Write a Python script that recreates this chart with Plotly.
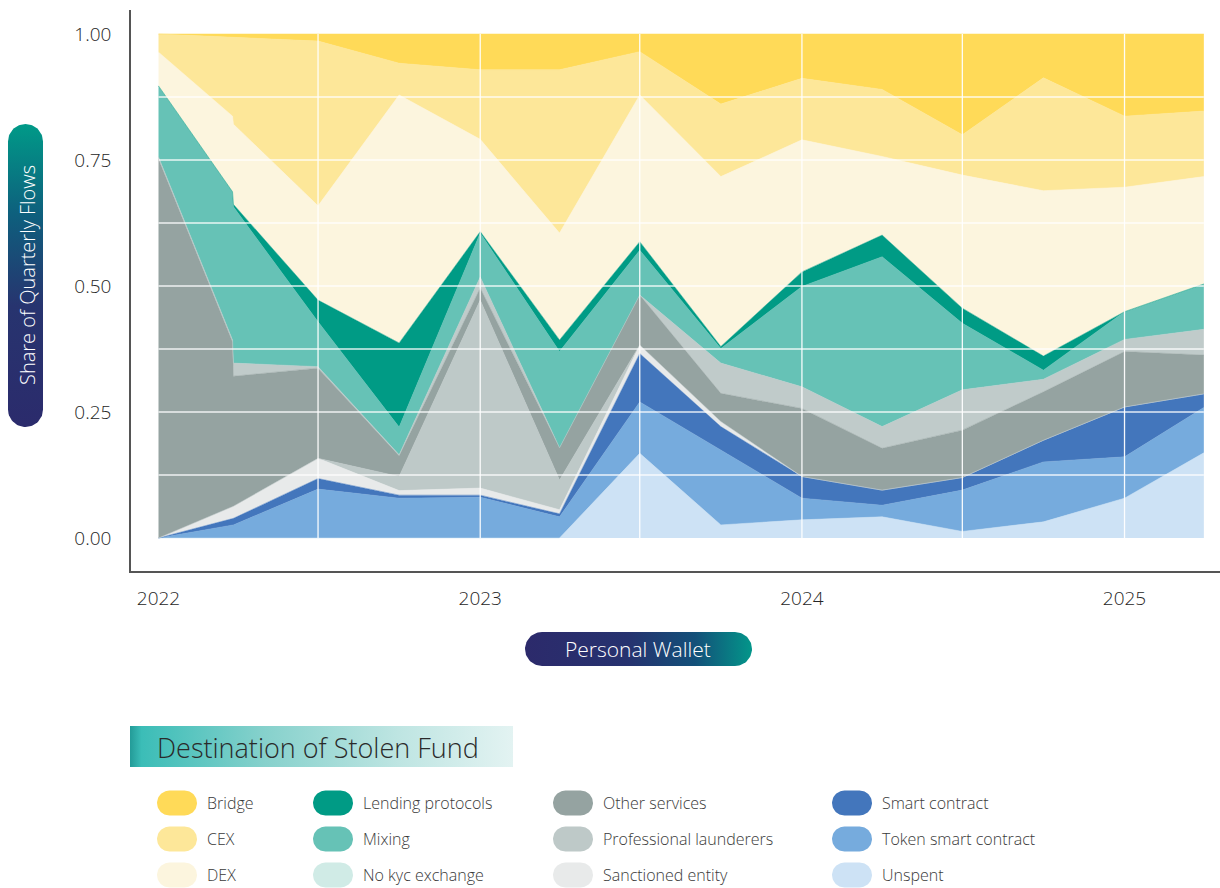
import numpy as np
import plotly.graph_objects as go

# Quarterly observations (the second row is a same-quarter revision)
dates = ["2022-01-01", "2022-03-26", "2022-03-27", "2022-07-01", "2022-10-01",
         "2023-01-01", "2023-04-01", "2023-07-01", "2023-10-01",
         "2024-01-01", "2024-04-01", "2024-07-01", "2024-10-01",
         "2025-01-01", "2025-04-01"]

# Share of quarterly flows per destination
unspent        = [0.000, 0.000, 0.000, 0.000, 0.000, 0.000, 0.000, 0.168, 0.026, 0.036, 0.042, 0.013, 0.032, 0.079, 0.169]
token_contract = [0.000, 0.026, 0.026, 0.097, 0.079, 0.081, 0.042, 0.102, 0.149, 0.043, 0.023, 0.082, 0.119, 0.082, 0.090]
smart_contract = [0.000, 0.013, 0.013, 0.021, 0.006, 0.004, 0.006, 0.096, 0.046, 0.043, 0.030, 0.025, 0.043, 0.099, 0.027]
sanctioned     = [0.000, 0.024, 0.024, 0.040, 0.009, 0.014, 0.008, 0.017, 0.010, 0.000, 0.000, 0.000, 0.000, 0.000, 0.000]
launderers     = [0.000, 0.000, 0.000, 0.000, 0.028, 0.373, 0.059, 0.000, 0.000, 0.000, 0.000, 0.000, 0.000, 0.000, 0.000]
other_services = [0.752, 0.326, 0.258, 0.179, 0.041, 0.024, 0.064, 0.099, 0.056, 0.135, 0.083, 0.094, 0.096, 0.110, 0.077]
no_kyc         = [0.004, 0.004, 0.026, 0.003, 0.002, 0.022, 0.000, 0.000, 0.060, 0.043, 0.043, 0.080, 0.025, 0.024, 0.051]
mixing         = [0.141, 0.294, 0.310, 0.089, 0.055, 0.087, 0.191, 0.089, 0.029, 0.199, 0.337, 0.132, 0.018, 0.055, 0.090]
lending        = [0.000, 0.000, 0.005, 0.043, 0.167, 0.003, 0.023, 0.017, 0.004, 0.029, 0.043, 0.030, 0.028, 0.000, 0.000]
dex            = [0.067, 0.150, 0.159, 0.187, 0.492, 0.183, 0.212, 0.291, 0.337, 0.262, 0.156, 0.264, 0.328, 0.247, 0.213]
cex            = [0.036, 0.157, 0.173, 0.327, 0.063, 0.138, 0.324, 0.086, 0.144, 0.122, 0.133, 0.080, 0.224, 0.141, 0.130]
bridge         = [0.000, 0.006, 0.006, 0.014, 0.058, 0.071, 0.071, 0.035, 0.139, 0.088, 0.110, 0.200, 0.087, 0.163, 0.153]

year_ticks = ["2022-01-01", "2023-01-01", "2024-01-01", "2025-01-01"]
year_labels = ["2022", "2023", "2024", "2025"]
share_ticks = [0.0, 0.25, 0.5, 0.75, 1.0]

# name, values, area colour, legend swatch colour  (bottom of the stack first)
series = [
    ("Unspent", unspent, "#CDE2F5", "#CDE2F5"),
    ("Token smart contract", token_contract, "#76ABDD", "#76ABDD"),
    ("Smart contract", smart_contract, "#4376BC", "#4376BC"),
    ("Sanctioned entity", sanctioned, "#E8EAEA", "#E8EAEA"),
    ("Professional launderers", launderers, "#BEC9C8", "#BEC9C8"),
    ("Other services", other_services, "#95A3A1", "#95A3A1"),
    ("No kyc exchange", no_kyc, "#C0CBCA", "#D0EBE6"),
    ("Mixing", mixing, "#66C2B6", "#66C2B6"),
    ("Lending protocols", lending, "#009B85", "#009B85"),
    ("DEX", dex, "#FCF5DE", "#FCF5DE"),
    ("CEX", cex, "#FDE799", "#FDE799"),
    ("Bridge", bridge, "#FFDA58", "#FFDA58"),
]
swatch = {name: sw for name, _, _, sw in series}

legend_columns = [
    ["Bridge", "CEX", "DEX"],
    ["Lending protocols", "Mixing", "No kyc exchange"],
    ["Other services", "Professional launderers", "Sanctioned entity"],
    ["Smart contract", "Token smart contract", "Unspent"],
]

W, H = 1220, 888
FONT = "'Open Sans', Lato, sans-serif"

fig = go.Figure()

for name, vals, color, _ in series:
    fig.add_trace(go.Scatter(
        x=dates, y=vals, name=name, stackgroup="flows",
        mode="lines", line=dict(width=0.5, color=color),
        fillcolor=color, showlegend=False, hoverinfo="skip",
    ))


def pill(x0, y0, x1, y1, n=20):
    r = min(x1 - x0, y1 - y0) / 2
    xs, ys = [], []
    for cx, cy, a0 in [(x1 - r, y0 + r, -90), (x1 - r, y1 - r, 0),
                       (x0 + r, y1 - r, 90), (x0 + r, y0 + r, 180)]:
        a = np.radians(np.linspace(a0, a0 + 90, n))
        xs += list(cx + r * np.cos(a))
        ys += list(cy + r * np.sin(a))
    return xs + [xs[0]], ys + [ys[0]]


def deco(xs, ys, color=None, gradient=None):
    kw = dict(x=xs, y=ys, xaxis="x2", yaxis="y2", mode="lines", fill="toself",
              line=dict(width=0), showlegend=False, hoverinfo="skip")
    if gradient is not None:
        kw["fillgradient"] = gradient
        kw["fillcolor"] = "rgba(0,0,0,0)"
    else:
        kw["fillcolor"] = color
    fig.add_trace(go.Scatter(**kw))


# y-axis caption pill
px_, py_ = pill(8, 124, 43, 427)
deco(px_, py_, gradient=dict(type="vertical", start=124, stop=427,
                             colorscale=[[0, "#009A88"], [0.3, "#0E5F7D"],
                                         [0.6, "#27346F"], [1, "#2B2B6C"]]))
# x-axis caption pill
px_, py_ = pill(525, 632, 752, 666)
deco(px_, py_, gradient=dict(type="horizontal", start=525, stop=752,
                             colorscale=[[0, "#2C2A6B"], [0.45, "#26326F"],
                                         [0.75, "#135079"], [1, "#03968A"]]))
# legend title banner
deco([130, 513, 513, 130, 130], [726, 726, 767, 767, 726],
     gradient=dict(type="horizontal", start=130, stop=513,
                   colorscale=[[0, "#239B98"], [0.03, "#3BBDB7"], [0.35, "#86D1CC"],
                               [0.7, "#BEE5E2"], [1, "#E3F3F2"]]))

col_x = [157, 313, 553, 832]
row_y = [803, 839, 875]
annotations = []
for cx, names in zip(col_x, legend_columns):
    for ry, nm in zip(row_y, names):
        px_, py_ = pill(cx, ry - 12.5, cx + 40, ry + 12.5)
        deco(px_, py_, color=swatch[nm])
        annotations.append(dict(x=cx + 48, y=ry, xref="x2", yref="y2", text=nm,
                                showarrow=False, xanchor="left", yanchor="middle",
                                font=dict(family=FONT, size=16, color="#3A3A3A",
                                          weight=300)))

annotations += [
    dict(x=27, y=275, xref="x2", yref="y2", text="Share of Quarterly Flows",
         textangle=-90, showarrow=False,
         font=dict(family=FONT, size=20, color="#FFFFFF", weight=300)),
    dict(x=638, y=649, xref="x2", yref="y2", text="Personal Wallet",
         showarrow=False, font=dict(family=FONT, size=21, color="#FFFFFF", weight=300)),
    dict(x=155, y=747, xref="x2", yref="y2", text="Destination of Stolen Fund",
         showarrow=False, xanchor="left", yanchor="middle",
         font=dict(family=FONT, size=27, color="#2A2A2A", weight=300)),
]

# white grid drawn over the areas
grid = []
for k in range(1, 8):
    grid.append(dict(type="line", xref="x", yref="y", x0=dates[0], x1=dates[-1],
                     y0=k / 8, y1=k / 8, layer="above",
                     line=dict(color="rgba(255,255,255,0.85)", width=1.3)))
for d in ["2022-07-01", "2023-01-01", "2023-07-01", "2024-01-01", "2024-07-01", "2025-01-01"]:
    grid.append(dict(type="line", xref="x", yref="y", x0=d, x1=d, y0=0, y1=1,
                     layer="above", line=dict(color="rgba(255,255,255,0.95)", width=1.3)))

tick_font = dict(family=FONT, size=19, color="#262626", weight=300)

fig.update_layout(
    width=W, height=H,
    margin=dict(l=0, r=0, t=0, b=0),
    paper_bgcolor="white", plot_bgcolor="rgba(0,0,0,0)",
    showlegend=False,
    font=dict(family=FONT, color="#333333"),
    xaxis=dict(type="date", domain=[131 / W, 1],
               range=["2021-11-30 19:00", "2025-04-19 08:00"],
               tickvals=year_ticks, ticktext=year_labels,
               ticks="outside", ticklen=9, tickcolor="rgba(0,0,0,0)",
               tickfont=tick_font,
               showgrid=False, zeroline=False, showline=True,
               linecolor="#555555", linewidth=1.5, anchor="y", automargin=False,
               fixedrange=True),
    yaxis=dict(domain=[317 / H, 878 / H], range=[-0.0655, 1.0476],
               tickvals=share_ticks, tickformat=".2f",
               ticks="outside", ticklen=14, tickcolor="rgba(0,0,0,0)",
               tickfont=tick_font,
               showgrid=False, zeroline=False, showline=True,
               linecolor="#555555", linewidth=1.5, anchor="x", automargin=False,
               fixedrange=True),
    xaxis2=dict(domain=[0, 1], range=[0, W], visible=False, anchor="y2", fixedrange=True),
    yaxis2=dict(domain=[0, 1], range=[H, 0], visible=False, anchor="x2", fixedrange=True),
    shapes=grid,
    annotations=annotations,
    hovermode=False,
)

fig.write_html("out.html")
